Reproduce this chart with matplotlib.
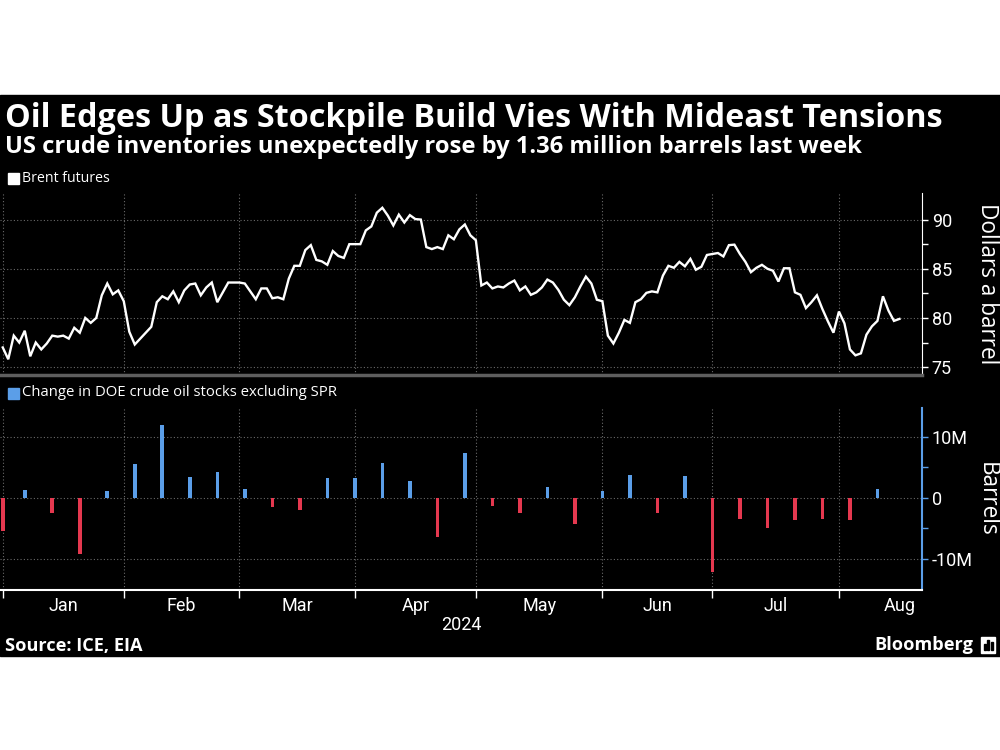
import numpy as np
import pandas as pd
import matplotlib
matplotlib.use("Agg")
import matplotlib.pyplot as plt
from matplotlib import font_manager
from matplotlib.patches import Rectangle

# Brent front-month, one value per trading day, Dec 29 2023 .. Aug 15 2024
brent = [77.0, 75.8, 78.2, 77.5, 78.7, 76.1, 77.5, 76.8, 77.4, 78.2,
         78.1, 78.2, 77.9, 79.0, 78.5, 80.0, 79.5, 80.0, 82.3, 83.5,
         82.4, 82.8, 81.7, 78.6, 77.3, 77.9, 78.5, 79.1, 81.6, 82.2,
         81.9, 82.7, 81.6, 82.8, 83.4, 83.5, 82.3, 83.1, 83.6, 81.6,
         82.6, 83.6, 83.6, 83.6, 83.5, 82.7, 81.9, 83.0, 83.0, 82.0,
         82.1, 81.9, 84.0, 85.3, 85.3, 86.9, 87.4, 85.9, 85.75, 85.4,
         86.8, 86.3, 86.1, 87.5, 87.5, 87.5, 88.9, 89.3, 90.7, 91.2,
         90.4, 89.4, 90.5, 89.7, 90.45, 90.05, 90.0, 87.2, 87.0, 87.2,
         87.0, 88.4, 88.0, 89.0, 89.5, 88.4, 87.9, 83.3, 83.6, 83.0,
         83.2, 83.1, 83.5, 83.8, 82.8, 83.2, 82.35, 82.6, 83.1, 83.9,
         83.6, 82.85, 81.85, 81.3, 82.1, 83.2, 84.2, 83.5, 81.85, 81.7,
         78.2, 77.4, 78.5, 79.8, 79.5, 81.6, 81.9, 82.55, 82.7, 82.6,
         84.3, 85.3, 85.1, 85.7, 85.25, 86.0, 84.9, 85.2, 86.4, 86.5,
         86.6, 86.25, 87.4, 87.45, 86.5, 85.7, 84.65, 85.1, 85.4, 85.0,
         84.8, 83.7, 85.05, 85.05, 82.6, 82.35, 81.0, 81.6, 82.3, 80.9,
         79.65, 78.5, 80.65, 79.45, 76.8, 76.2, 76.4, 78.3, 79.15, 79.7,
         82.2, 80.75, 79.7, 79.9]

# weekly change in DOE crude stocks ex SPR (million barrels), weeks ending Dec 29 .. Aug 9
stock_change = [-5.5, 1.3, -2.5, -9.2, 1.2, 5.5, 12.0, 3.5, 4.2, 1.4,
                -1.5, -2.0, 3.2, 3.2, 5.8, 2.7, -6.4, 7.3, -1.4, -2.5,
                1.8, -4.2, 1.2, 3.7, -2.5, 3.6, -12.2, -3.4, -4.9, -3.7,
                -3.4, -3.7, 1.4]

month_names = ["Jan", "Feb", "Mar", "Apr", "May", "Jun", "Jul", "Aug"]
price_ticks = [75, 80, 85, 90]
stock_ticks = [-10, 0, 10]
stock_labels = ["-10M", "0", "10M"]

BLUE = "#5B9EE8"
RED = "#E5384F"
GRID = "#6a6a6a"


def pick(names, bold=False):
    for n in names:
        for f in font_manager.fontManager.ttflist:
            if f.name != n:
                continue
            w = f.weight if isinstance(f.weight, int) else 400
            if not bold or w >= 600:
                return n
    return "DejaVu Sans"


head_font = pick(["Open Sans", "Noto Sans", "Lato", "Roboto"], bold=True)
body_font = pick(["Open Sans", "Noto Sans", "Lato"])
tick_font = pick(["Liberation Sans Narrow", "Roboto", "Noto Sans"])

# trading-day axis (weekends skipped, Jan 1 not traded)
days = pd.bdate_range("2023-12-29", "2024-08-30")
days = days[days != pd.Timestamp("2024-01-01")]
idx = pd.Series(np.arange(len(days)), index=days)
month_end = idx.groupby(days.to_period("M")).max().values
grid_pos = month_end[:-1]
label_pos = (month_end[:-1] + month_end[1:]) / 2.0

x = np.arange(len(brent))
fridays = [i for i in range(len(brent)) if days[i].weekday() == 4]

fig = plt.figure(figsize=(10, 7.5), dpi=100, facecolor="white")
fig.add_artist(Rectangle((0, 1 - 656 / 750), 1, (656 - 95) / 750,
                         transform=fig.transFigure, color="black", zorder=-5))

ax1 = fig.add_axes([0, 1 - 375 / 750, 0.922, 182 / 750])
ax2 = fig.add_axes([0, 1 - 590 / 750, 0.922, 182 / 750], sharex=ax1)

for ax in (ax1, ax2):
    ax.set_facecolor("black")
    ax.spines["top"].set_visible(False)
    ax.spines["left"].set_visible(False)
    ax.yaxis.tick_right()
    ax.yaxis.set_label_position("right")
    ax.set_xticks(grid_pos)
    ax.set_xticks(label_pos, minor=True)
    ax.grid(True, which="major", color=GRID, ls=(0, (1, 2)), lw=0.8)
    ax.set_axisbelow(True)

# top panel: Brent
ax1.plot(x, brent, color="white", lw=1.7, solid_joinstyle="miter")
ax1.set_ylim(74.2, 92.7)
ax1.set_yticks(price_ticks)
ax1.set_yticks([77.5, 82.5, 87.5], minor=True)
ax1.spines["right"].set_color("white")
ax1.spines["bottom"].set_color("#5e5e5e")
ax1.spines["bottom"].set_linewidth(2.5)
ax1.tick_params(axis="y", which="both", colors="white", direction="out",
                length=4, width=1, pad=3, labelsize=13)
ax1.tick_params(axis="x", which="both", length=0, labelbottom=False)
for t in ax1.get_yticklabels():
    t.set_fontfamily(tick_font)
ax1.set_ylabel("Dollars a barrel", color="white", rotation=270,
               fontsize=16.3, fontfamily=body_font, ha="center", va="center")
ax1.yaxis.set_label_coords(987 / 922, 0.5)

# bottom panel: DOE stock change
bar_colors = [BLUE if v >= 0 else RED for v in stock_change]
ax2.bar(fridays, stock_change, width=0.65, color=bar_colors, zorder=3)
ax2.set_ylim(-15.1, 14.75)
ax2.set_yticks(stock_ticks)
ax2.set_yticklabels(stock_labels)
ax2.set_yticks([-5, 5], minor=True)
ax2.spines["right"].set_color(BLUE)
ax2.spines["right"].set_linewidth(1.5)
ax2.spines["bottom"].set_color("white")
ax2.spines["bottom"].set_linewidth(1.5)
ax2.tick_params(axis="y", which="both", colors=BLUE, labelcolor="white",
                direction="out", length=4, width=1, pad=3, labelsize=13)
ax2.tick_params(axis="x", which="major", colors="white", direction="out",
                length=6, width=1, labelbottom=False)
ax2.tick_params(axis="x", which="minor", length=0, labelcolor="white",
                labelsize=13, pad=5)
ax2.set_xticklabels(month_names, minor=True)
for t in ax2.get_yticklabels() + ax2.get_xticklabels(minor=True):
    t.set_fontfamily(tick_font)
ax2.set_ylabel("Barrels", color="white", rotation=270,
               fontsize=16.3, fontfamily=body_font, ha="center", va="center")
ax2.yaxis.set_label_coords(987 / 922, 0.5)
ax2.set_xlim(-0.5, 167.1)

# texts
title = fig.text(0.005, 1 - 127 / 750, "Oil Edges Up as Stockpile Build Vies With Mideast Tensions",
                 color="white", fontsize=24, fontweight="bold", fontfamily=head_font, va="baseline")
sub = fig.text(0.005, 1 - 153 / 750, "US crude inventories unexpectedly rose by 1.36 million barrels last week",
               color="white", fontsize=17, fontweight="bold", fontfamily=head_font, va="baseline")
leg1 = fig.text(0.022, 1 - 178 / 750, "Brent futures", color="white", fontsize=10.5,
                fontfamily=body_font, va="center")
leg2 = fig.text(0.022, 1 - 393 / 750, "Change in DOE crude oil stocks excluding SPR",
                color="white", fontsize=10.5, fontfamily=body_font, va="center")
fig.add_artist(Rectangle((0.008, 1 - 184 / 750), 0.011, 11 / 750,
                         transform=fig.transFigure, color="white"))
fig.add_artist(Rectangle((0.008, 1 - 399 / 750), 0.011, 11 / 750,
                         transform=fig.transFigure, color=BLUE))
fig.text(0.461, 1 - 625 / 750, "2024", color="white", fontsize=13,
         fontfamily=tick_font, ha="center", va="center")
src = fig.text(0.005, 1 - 646 / 750, "Source: ICE, EIA", color="white", fontsize=11,
               fontweight="bold", fontfamily=head_font, va="center")
bb = fig.text(0.973, 1 - 645 / 750, "Bloomberg", color="white", fontsize=14,
              fontweight="bold", fontfamily=head_font, va="center", ha="right")

# small logo mark next to the wordmark
fig.add_artist(Rectangle((0.981, 1 - 653 / 750), 0.014, 16 / 750,
                         transform=fig.transFigure, color="white"))
for i, h in enumerate([6, 10, 8]):
    fig.add_artist(Rectangle((0.9835 + i * 0.0035, 1 - 650 / 750), 0.002, h / 750,
                             transform=fig.transFigure, color="black"))


def fit(t, width_px):
    fig.canvas.draw()
    w = t.get_window_extent().width
    t.set_fontsize(t.get_fontsize() * width_px / w)


fit(title, 937)
fit(sub, 857)
fit(leg1, 88)
fit(leg2, 315)
fit(src, 137)
fit(bb, 99)

fig.savefig("out.png", dpi=100, facecolor="white")
